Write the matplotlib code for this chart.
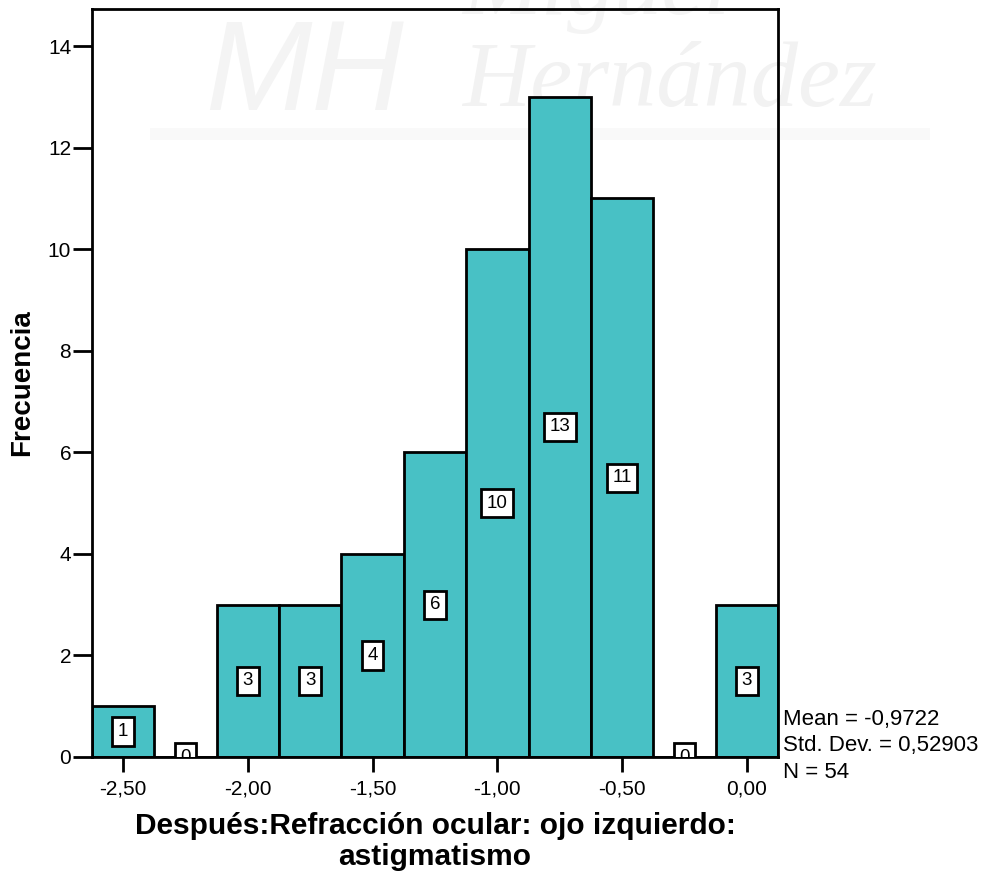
import matplotlib
matplotlib.use("Agg")
import matplotlib.pyplot as plt
from matplotlib.patches import Rectangle

# Histogram data: bin centres and frequencies
bin_centers = [-2.50, -2.25, -2.00, -1.75, -1.50, -1.25, -1.00, -0.75, -0.50, -0.25, 0.00]
counts = [1, 0, 3, 3, 4, 6, 10, 13, 11, 0, 3]
bin_width = 0.25

x_ticks = [-2.50, -2.00, -1.50, -1.00, -0.50, 0.00]
x_tick_labels = ["-2,50", "-2,00", "-1,50", "-1,00", "-0,50", "0,00"]
y_ticks = [0, 2, 4, 6, 8, 10, 12, 14]

stats_lines = ["Mean = -0,9722", "Std. Dev. = 0,52903", "N = 54"]
x_label = "Después:Refracción ocular: ojo izquierdo:\nastigmatismo"
y_label = "Frecuencia"

plt.rcParams["font.family"] = ["Liberation Sans", "DejaVu Sans"]

W, H = 987, 874
fig = plt.figure(figsize=(W / 100, H / 100), dpi=100)
fig.patch.set_facecolor("white")

# faint background watermark
fig.add_artist(Rectangle((150 / W, 1 - 140 / H), 780 / W, 12 / H,
                         transform=fig.transFigure, facecolor="#f9f9f9",
                         edgecolor="none", zorder=0))
fig.text(462 / W, 1 - 106 / H, "Hernández", fontsize=68, style="italic",
         family="Liberation Serif", color="#f2f2f2", ha="left",
         va="baseline", zorder=0)
fig.text(462 / W, 1 - 14 / H, "Miguel", fontsize=68, style="italic",
         family="Liberation Serif", color="#f4f4f4", ha="left",
         va="baseline", zorder=0)
fig.text(205 / W, 1 - 110 / H, "MH", fontsize=92, style="italic",
         family="Liberation Sans", color="#f4f4f4", ha="left",
         va="baseline", zorder=0)

ax = fig.add_axes([92 / W, 1 - 757 / H, (778 - 92) / W, (757 - 9) / H])
ax.patch.set_alpha(0)
ax.set_zorder(2)

ax.bar(bin_centers, counts, width=bin_width, color="#48c1c5",
       edgecolor="black", linewidth=2, zorder=2)

# value boxes at half bar height
for xc, c in zip(bin_centers, counts):
    ax.text(xc, c / 2, str(c), ha="center", va="center", fontsize=13.5,
            zorder=4, clip_on=True,
            bbox=dict(boxstyle="square,pad=0.3", facecolor="white",
                      edgecolor="black", linewidth=2))

ax.set_xlim(-2.625, 0.125)
ax.set_ylim(0, 14.73)
ax.set_xticks(x_ticks)
ax.set_xticklabels(x_tick_labels)
ax.set_yticks(y_ticks)
ax.tick_params(direction="out", width=2, labelsize=15)
ax.tick_params(axis="x", length=11, pad=5)
ax.tick_params(axis="y", length=14, pad=1)

for sp in ax.spines.values():
    sp.set_linewidth(2)
    sp.set_color("black")

ax.set_xlabel(x_label, fontsize=21.5, fontweight="bold", labelpad=10,
              linespacing=1.12)
ax.set_ylabel(y_label, fontsize=20, fontweight="bold", labelpad=9)

for i, line in enumerate(stats_lines):
    fig.text(783 / W, 1 - (720 + 26 * i) / H, line, fontsize=16,
             ha="left", va="center")

fig.savefig("out.png", dpi=100, facecolor="white")
